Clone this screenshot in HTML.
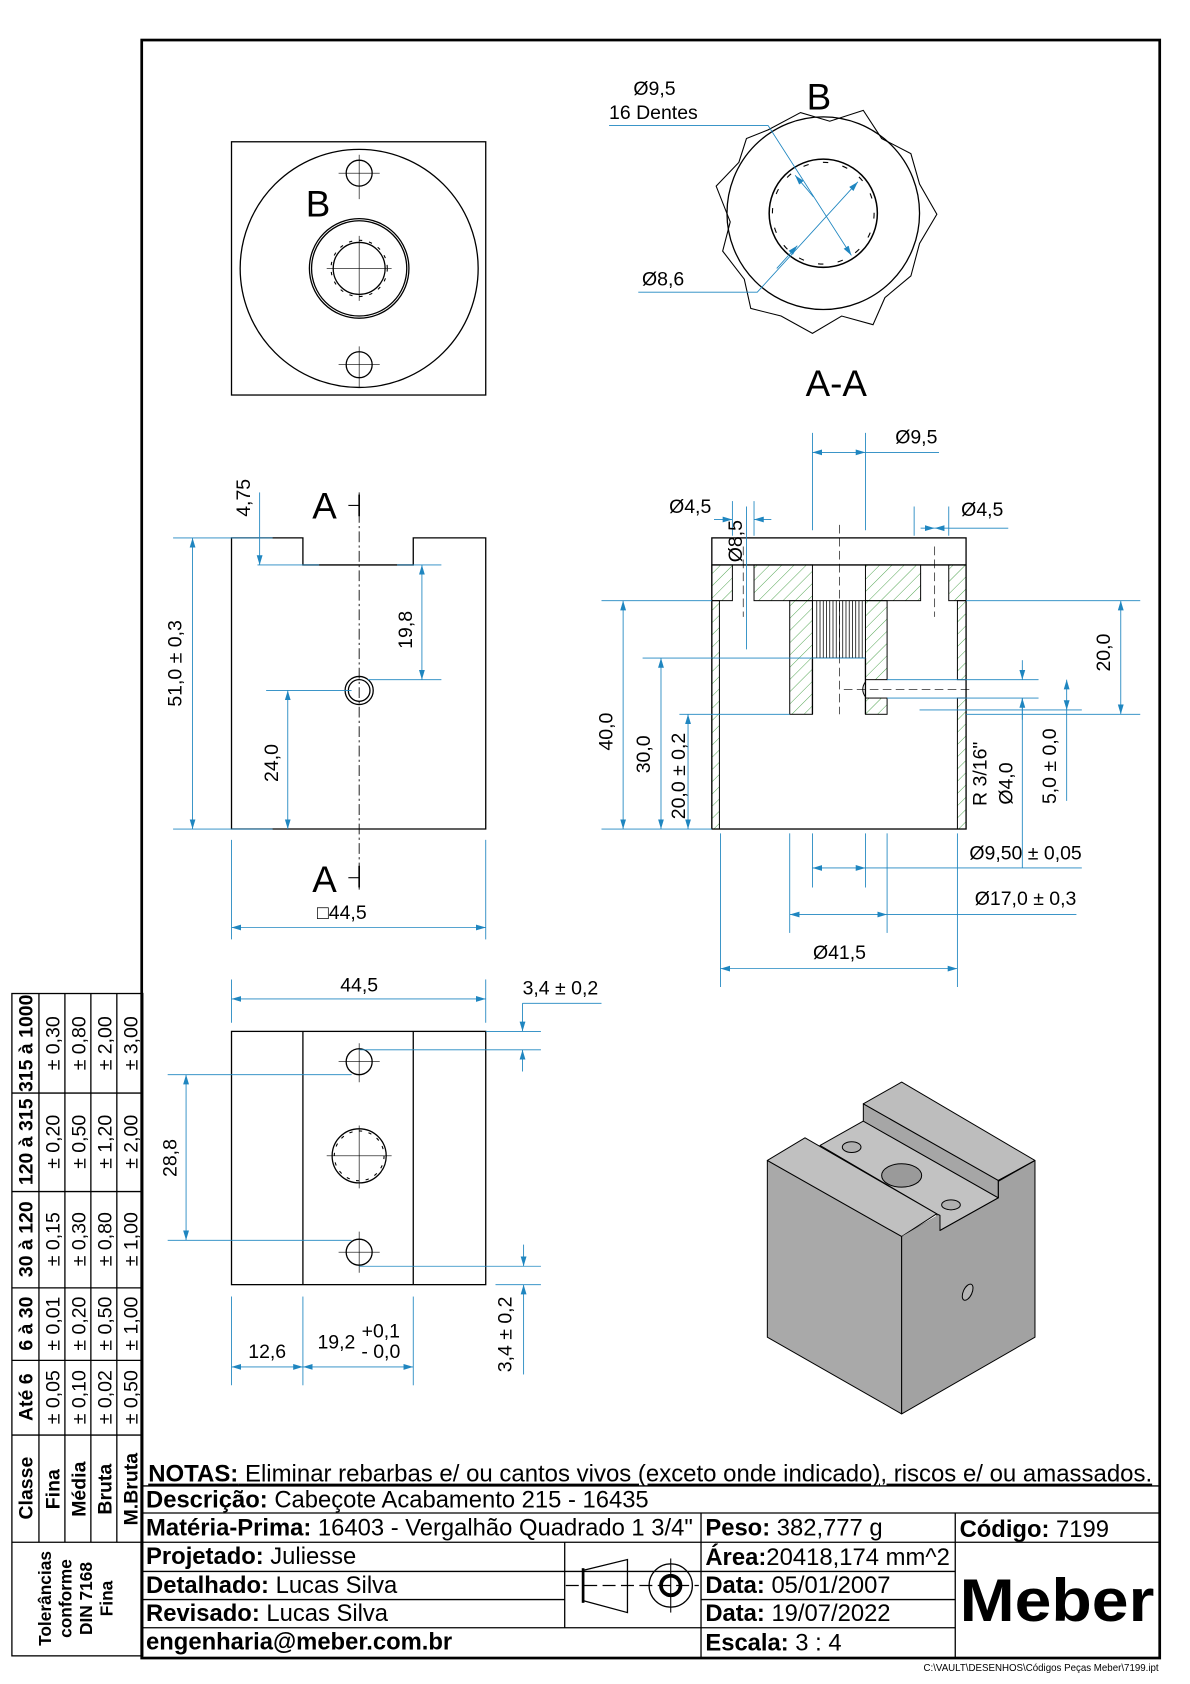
<!DOCTYPE html>
<html><head><meta charset="utf-8"><style>
html,body{margin:0;padding:0;background:#fff;}
svg{display:block;font-family:"Liberation Sans",sans-serif;}
</style></head><body>
<svg width="1190" height="1684" viewBox="0 0 1100 1556" preserveAspectRatio="none" xmlns="http://www.w3.org/2000/svg">
<defs>
<marker id="ar" viewBox="0 0 10 10" refX="10" refY="5" markerWidth="9" markerHeight="9" orient="auto-start-reverse" markerUnits="userSpaceOnUse"><path d="M0,2 L10,5 L0,8 z" fill="#1f86c0"/></marker>
<pattern id="hat" patternUnits="userSpaceOnUse" width="8" height="8" patternTransform="rotate(45)"><line x1="0" y1="0" x2="0" y2="8" stroke="#3c9a3c" stroke-width="0.8"/></pattern>
</defs>
<rect width="1100" height="1556" fill="#fff"/>
<rect x="131" y="37" width="941" height="1495" fill="none" stroke="#000" stroke-width="2.5"/>

<g stroke="#000" fill="none" stroke-width="1.2">
<rect x="214" y="131" width="235" height="234"/>
<circle cx="332" cy="248" r="110"/>
<circle cx="332" cy="248" r="46"/>
<circle cx="332" cy="248" r="44"/>
<circle cx="332" cy="248" r="24"/>
<circle cx="332" cy="248" r="26" stroke-dasharray="3,6.4" stroke-width="1"/>
<circle cx="332" cy="160" r="12"/>
<circle cx="332" cy="337" r="12"/>
<g stroke-width="0.6">
<line x1="332" y1="143" x2="332" y2="184"/><line x1="313" y1="160" x2="351" y2="160"/>
<line x1="332" y1="320" x2="332" y2="358"/><line x1="313" y1="337" x2="351" y2="337"/>
<line x1="332" y1="218" x2="332" y2="278"/><line x1="302" y1="248" x2="362" y2="248"/>
</g>

<circle cx="761" cy="197" r="89"/>
<path d="M710,120 L740,104 L767,112 L798,102 L815,128 L842,142 L850,170 L866,198 L850,225 L842,255 L818,275 L807,300 L778,292 L751,308 L722,292 L694,285 L688,258 L668,232 L675,205 L662,172 L683,150 L690,128 Z" stroke-width="1"/>
<circle cx="761" cy="197" r="50" stroke-width="1.4"/>
<circle cx="761" cy="197" r="47" stroke-dasharray="5,13.4" stroke-width="1"/>

<path d="M214,497 L280,497 L280,522 L382,522 L382,497 L449,497 L449,766 L214,766 Z"/>
<circle cx="332" cy="638" r="13"/><circle cx="332" cy="638" r="10"/>
<line x1="332" y1="455" x2="332" y2="822" stroke-width="0.8" stroke-dasharray="10,3,2,3"/>
<line x1="322" y1="467" x2="332" y2="467" stroke-width="1"/>
<line x1="322" y1="811" x2="332" y2="811" stroke-width="1"/>
<line x1="332" y1="457" x2="332" y2="477" stroke-width="1.5"/>
<line x1="332" y1="800" x2="332" y2="820" stroke-width="1.5"/>

<rect x="214" y="953" width="235" height="234"/>
<line x1="280" y1="953" x2="280" y2="1187"/><line x1="382" y1="953" x2="382" y2="1187"/>
<circle cx="332" cy="981" r="12"/><circle cx="332" cy="1157" r="12"/>
<circle cx="332" cy="1068" r="25"/>
<circle cx="332" cy="1068" r="23" stroke-dasharray="3,6" stroke-width="1"/>
<g stroke-width="0.6">
<line x1="332" y1="964" x2="332" y2="1000"/><line x1="313" y1="981" x2="351" y2="981"/>
<line x1="332" y1="1138" x2="332" y2="1176"/><line x1="313" y1="1157" x2="351" y2="1157"/>
<line x1="332" y1="1040" x2="332" y2="1098"/><line x1="302" y1="1068" x2="362" y2="1068"/>
</g>

<g stroke-width="0.9" fill="url(#hat)">
<rect x="658" y="522" width="19" height="33"/>
<rect x="658" y="555" width="7" height="211"/>
<rect x="697" y="522" width="54" height="33"/>
<rect x="800" y="522" width="51" height="33"/>
<rect x="877" y="522" width="16" height="33"/>
<rect x="885" y="555" width="8" height="73"/>
<rect x="885" y="645" width="8" height="121"/>
<rect x="730" y="555" width="21" height="105"/>
<rect x="800" y="555" width="20" height="73"/>
<rect x="800" y="645" width="20" height="15"/>
</g>
<rect x="658" y="497" width="235" height="269"/>
<line x1="658" y1="522" x2="893" y2="522"/>
<rect x="751" y="555" width="49" height="53" stroke-width="0.9"/>
<g stroke-width="0.7">
<line x1="755" y1="555" x2="755" y2="608"/><line x1="758" y1="555" x2="758" y2="608"/><line x1="761" y1="555" x2="761" y2="608"/><line x1="764" y1="555" x2="764" y2="608"/><line x1="767" y1="555" x2="767" y2="608"/><line x1="770" y1="555" x2="770" y2="608"/><line x1="773" y1="555" x2="773" y2="608"/><line x1="776" y1="555" x2="776" y2="608"/><line x1="779" y1="555" x2="779" y2="608"/><line x1="782" y1="555" x2="782" y2="608"/><line x1="785" y1="555" x2="785" y2="608"/><line x1="788" y1="555" x2="788" y2="608"/><line x1="791" y1="555" x2="791" y2="608"/><line x1="794" y1="555" x2="794" y2="608"/><line x1="797" y1="555" x2="797" y2="608"/>
</g>
<line x1="751" y1="608" x2="751" y2="660"/><line x1="800" y1="608" x2="800" y2="660"/>
<path d="M800,630 Q795,637 800,644" stroke-width="0.9"/>
<line x1="776" y1="485" x2="776" y2="660" stroke-width="0.6" stroke-dasharray="8,4"/>
<line x1="687" y1="505" x2="687" y2="570" stroke-width="0.6" stroke-dasharray="8,4"/>
<line x1="864" y1="505" x2="864" y2="570" stroke-width="0.6" stroke-dasharray="8,4"/>
<line x1="780" y1="637" x2="900" y2="637" stroke-width="0.6" stroke-dasharray="8,4"/>
</g>

<g transform="scale(0.92437) translate(760,1080) scale(0.3333)" stroke="#000" stroke-width="3" stroke-linejoin="round">
<polygon points="22,240 425,468 425,1000 22,770" fill="#a9a9a9"/>
<polygon points="425,468 825,240 825,770 425,1000" fill="#a2a2a2"/>
<polygon points="180,195 310,122 715,352 540,450 530,400" fill="#c2c2c2"/>
<polygon points="310,70 310,122 715,352 715,300" fill="#a6a6a6"/>
<polygon points="310,70 425,5 825,240 715,300" fill="#bdbdbd"/>
<polygon points="22,240 135,172 530,400 425,468" fill="#c0c0c0"/>
<polygon points="425,468 540,400 540,450" fill="#a2a2a2" stroke="none"/>
<polyline points="530,400 540,405 540,450 715,352 715,300 825,240" fill="none"/>
<ellipse cx="275" cy="200" rx="28" ry="16" fill="#b0b0b0"/>
<ellipse cx="425" cy="285" rx="60" ry="35" fill="#9a9a9a"/>
<ellipse cx="573" cy="373" rx="28" ry="15" fill="#b0b0b0"/>
<ellipse cx="623" cy="635" rx="13" ry="26" transform="rotate(25 623 635)" fill="#b5b5b5"/>
</g>

<g stroke="#1f86c0" stroke-width="0.8" fill="none">
<line x1="160" y1="497" x2="252" y2="497"/><line x1="160" y1="766" x2="252" y2="766"/>
<line x1="178" y1="497" x2="178" y2="766" marker-start="url(#ar)" marker-end="url(#ar)"/>
<line x1="240" y1="455" x2="240" y2="522" marker-end="url(#ar)"/>
<line x1="238" y1="522" x2="295" y2="522"/>
<line x1="367" y1="522" x2="408" y2="522"/><line x1="340" y1="628" x2="408" y2="628"/>
<line x1="390" y1="522" x2="390" y2="628" marker-start="url(#ar)" marker-end="url(#ar)"/>
<line x1="246" y1="638" x2="325" y2="638"/>
<line x1="266" y1="638" x2="266" y2="766" marker-start="url(#ar)" marker-end="url(#ar)"/>
<line x1="214" y1="776" x2="214" y2="868"/><line x1="449" y1="776" x2="449" y2="868"/>
<line x1="214" y1="857" x2="449" y2="857" marker-start="url(#ar)" marker-end="url(#ar)"/>
<line x1="214" y1="905" x2="214" y2="945"/><line x1="449" y1="905" x2="449" y2="945"/>
<line x1="214" y1="923" x2="449" y2="923" marker-start="url(#ar)" marker-end="url(#ar)"/>
<line x1="449" y1="953" x2="500" y2="953"/><line x1="332" y1="970" x2="500" y2="970"/>
<line x1="483" y1="927" x2="556" y2="927"/>
<line x1="483" y1="927" x2="483" y2="953" marker-end="url(#ar)"/>
<line x1="483" y1="990" x2="483" y2="970" marker-end="url(#ar)"/>
<line x1="155" y1="993" x2="325" y2="993"/><line x1="155" y1="1146" x2="325" y2="1146"/>
<line x1="172" y1="993" x2="172" y2="1146" marker-start="url(#ar)" marker-end="url(#ar)"/>
<line x1="332" y1="1170" x2="500" y2="1170"/><line x1="458" y1="1187" x2="500" y2="1187"/>
<line x1="484" y1="1150" x2="484" y2="1170" marker-end="url(#ar)"/>
<line x1="484" y1="1270" x2="484" y2="1187" marker-end="url(#ar)"/>
<line x1="214" y1="1198" x2="214" y2="1280"/><line x1="280" y1="1198" x2="280" y2="1280"/><line x1="382" y1="1198" x2="382" y2="1280"/>
<line x1="214" y1="1263" x2="280" y2="1263" marker-start="url(#ar)" marker-end="url(#ar)"/>
<line x1="280" y1="1263" x2="382" y2="1263" marker-start="url(#ar)" marker-end="url(#ar)"/>
<polyline points="563,116 710,116 787,236" marker-end="url(#ar)"/>
<line x1="752" y1="182" x2="735" y2="162" marker-end="url(#ar)"/>
<polyline points="590,270 700,270 793,168" marker-end="url(#ar)"/>
<line x1="718" y1="248" x2="737" y2="227" marker-end="url(#ar)"/>
<line x1="751" y1="400" x2="751" y2="490"/><line x1="800" y1="400" x2="800" y2="490"/>
<line x1="751" y1="418" x2="800" y2="418" marker-start="url(#ar)" marker-end="url(#ar)"/>
<line x1="800" y1="418" x2="868" y2="418"/>
<line x1="677" y1="463" x2="677" y2="495"/><line x1="697" y1="463" x2="697" y2="495"/>
<line x1="660" y1="480" x2="677" y2="480" marker-end="url(#ar)"/>
<line x1="713" y1="480" x2="697" y2="480" marker-end="url(#ar)"/>
<line x1="690" y1="468" x2="690" y2="600"/>
<line x1="845" y1="468" x2="845" y2="495"/><line x1="877" y1="468" x2="877" y2="495"/>
<line x1="851" y1="488" x2="864" y2="488" marker-end="url(#ar)"/>
<line x1="877" y1="488" x2="864" y2="488" marker-end="url(#ar)"/>
<line x1="877" y1="488" x2="932" y2="488"/>
<line x1="556" y1="555" x2="658" y2="555"/><line x1="556" y1="766" x2="658" y2="766"/>
<line x1="576" y1="555" x2="576" y2="766" marker-start="url(#ar)" marker-end="url(#ar)"/>
<line x1="594" y1="608" x2="800" y2="608"/>
<line x1="611" y1="608" x2="611" y2="766" marker-start="url(#ar)" marker-end="url(#ar)"/>
<line x1="628" y1="660" x2="730" y2="660"/>
<line x1="636" y1="660" x2="636" y2="766" marker-start="url(#ar)" marker-end="url(#ar)"/>
<line x1="893" y1="555" x2="1054" y2="555"/><line x1="893" y1="660" x2="1054" y2="660"/>
<line x1="1036" y1="555" x2="1036" y2="660" marker-start="url(#ar)" marker-end="url(#ar)"/>
<line x1="820" y1="628" x2="960" y2="628"/><line x1="820" y1="645" x2="960" y2="645"/>
<line x1="945" y1="610" x2="945" y2="628" marker-end="url(#ar)"/>
<line x1="945" y1="665" x2="945" y2="645" marker-end="url(#ar)"/>
<line x1="945" y1="645" x2="945" y2="802"/>
<line x1="850" y1="656" x2="1000" y2="656"/>
<line x1="986" y1="628" x2="986" y2="656" marker-start="url(#ar)" marker-end="url(#ar)"/>
<line x1="986" y1="656" x2="986" y2="740"/>
<line x1="751" y1="770" x2="751" y2="820"/><line x1="800" y1="770" x2="800" y2="820"/>
<line x1="751" y1="802" x2="800" y2="802" marker-start="url(#ar)" marker-end="url(#ar)"/>
<line x1="800" y1="802" x2="1000" y2="802"/>
<line x1="730" y1="770" x2="730" y2="862"/><line x1="820" y1="770" x2="820" y2="862"/>
<line x1="730" y1="845" x2="820" y2="845" marker-start="url(#ar)" marker-end="url(#ar)"/>
<line x1="820" y1="845" x2="995" y2="845"/>
<line x1="666" y1="770" x2="666" y2="912"/><line x1="885" y1="770" x2="885" y2="912"/>
<line x1="666" y1="895" x2="885" y2="895" marker-start="url(#ar)" marker-end="url(#ar)"/>
</g>

<g fill="#000" font-size="18">
<text x="294" y="200" font-size="34" text-anchor="middle">B</text>
<text x="757" y="101" font-size="34" text-anchor="middle">B</text>
<text x="773" y="366" font-size="34" text-anchor="middle">A-A</text>
<text x="300" y="479" font-size="34" text-anchor="middle">A</text>
<text x="300" y="824" font-size="34" text-anchor="middle">A</text>
<text x="605" y="88" text-anchor="middle">Ø9,5</text>
<text x="604" y="110" text-anchor="middle">16 Dentes</text>
<text x="613" y="264" text-anchor="middle">Ø8,6</text>
<text transform="translate(168,613) rotate(-90)" text-anchor="middle">51,0 ± 0,3</text>
<text transform="translate(231,460) rotate(-90)" text-anchor="middle">4,75</text>
<text transform="translate(381,582) rotate(-90)" text-anchor="middle">19,8</text>
<text transform="translate(257,705) rotate(-90)" text-anchor="middle">24,0</text>
<text x="316" y="849" text-anchor="middle">□44,5</text>
<text x="332" y="916" text-anchor="middle">44,5</text>
<text x="518" y="919" text-anchor="middle">3,4 ± 0,2</text>
<text transform="translate(163,1070) rotate(-90)" text-anchor="middle">28,8</text>
<text transform="translate(473,1233) rotate(-90)" text-anchor="middle">3,4 ± 0,2</text>
<text x="247" y="1255" text-anchor="middle">12,6</text>
<text x="311" y="1246" text-anchor="middle">19,2</text>
<text x="352" y="1236" text-anchor="middle">+0,1</text>
<text x="352" y="1255" text-anchor="middle">- 0,0</text>
<text x="847" y="410" text-anchor="middle">Ø9,5</text>
<text x="638" y="474" text-anchor="middle">Ø4,5</text>
<text x="908" y="477" text-anchor="middle">Ø4,5</text>
<text transform="translate(686,500) rotate(-90)" text-anchor="middle">Ø8,5</text>
<text transform="translate(566,676) rotate(-90)" text-anchor="middle">40,0</text>
<text transform="translate(601,697) rotate(-90)" text-anchor="middle">30,0</text>
<text transform="translate(633,717) rotate(-90)" text-anchor="middle">20,0 ± 0,2</text>
<text transform="translate(1026,603) rotate(-90)" text-anchor="middle">20,0</text>
<text transform="translate(912,715) rotate(-90)" text-anchor="middle">R 3/16"</text>
<text transform="translate(936,724) rotate(-90)" text-anchor="middle">Ø4,0</text>
<text transform="translate(976,708) rotate(-90)" text-anchor="middle">5,0 ± 0,0</text>
<text x="948" y="794" text-anchor="middle">Ø9,50 ± 0,05</text>
<text x="948" y="836" text-anchor="middle">Ø17,0 ± 0,3</text>
<text x="776" y="886" text-anchor="middle">Ø41,5</text>
</g>

<g stroke="#000" stroke-width="1.2" fill="none">
<rect x="11" y="918" width="121" height="612"/>
<line x1="36" y1="918" x2="36" y2="1425"/><line x1="60" y1="918" x2="60" y2="1425"/><line x1="84" y1="918" x2="84" y2="1425"/><line x1="108" y1="918" x2="108" y2="1425"/>
<line x1="11" y1="1010" x2="132" y2="1010"/><line x1="11" y1="1101" x2="132" y2="1101"/><line x1="11" y1="1190" x2="132" y2="1190"/><line x1="11" y1="1257" x2="132" y2="1257"/><line x1="11" y1="1326" x2="132" y2="1326"/><line x1="11" y1="1425" x2="132" y2="1425"/>
</g>
<g font-size="18" fill="#000">
<g font-weight="bold">
<text transform="translate(30,964) rotate(-90)" text-anchor="middle">315 à 1000</text>
<text transform="translate(30,1055) rotate(-90)" text-anchor="middle">120 à 315</text>
<text transform="translate(30,1145) rotate(-90)" text-anchor="middle">30 à 120</text>
<text transform="translate(30,1223) rotate(-90)" text-anchor="middle">6 à 30</text>
<text transform="translate(30,1291) rotate(-90)" text-anchor="middle">Até 6</text>
<text transform="translate(30,1375) rotate(-90)" text-anchor="middle">Classe</text>
<text transform="translate(55,1376) rotate(-90)" text-anchor="middle">Fina</text>
<text transform="translate(79,1376) rotate(-90)" text-anchor="middle">Média</text>
<text transform="translate(103,1376) rotate(-90)" text-anchor="middle">Bruta</text>
<text transform="translate(127,1376) rotate(-90)" text-anchor="middle">M.Bruta</text>
</g>
<text transform="translate(55,964) rotate(-90)" text-anchor="middle">± 0,30</text>
<text transform="translate(79,964) rotate(-90)" text-anchor="middle">± 0,80</text>
<text transform="translate(103,964) rotate(-90)" text-anchor="middle">± 2,00</text>
<text transform="translate(127,964) rotate(-90)" text-anchor="middle">± 3,00</text>
<text transform="translate(55,1055) rotate(-90)" text-anchor="middle">± 0,20</text>
<text transform="translate(79,1055) rotate(-90)" text-anchor="middle">± 0,50</text>
<text transform="translate(103,1055) rotate(-90)" text-anchor="middle">± 1,20</text>
<text transform="translate(127,1055) rotate(-90)" text-anchor="middle">± 2,00</text>
<text transform="translate(55,1145) rotate(-90)" text-anchor="middle">± 0,15</text>
<text transform="translate(79,1145) rotate(-90)" text-anchor="middle">± 0,30</text>
<text transform="translate(103,1145) rotate(-90)" text-anchor="middle">± 0,80</text>
<text transform="translate(127,1145) rotate(-90)" text-anchor="middle">± 1,00</text>
<text transform="translate(55,1223) rotate(-90)" text-anchor="middle">± 0,01</text>
<text transform="translate(79,1223) rotate(-90)" text-anchor="middle">± 0,20</text>
<text transform="translate(103,1223) rotate(-90)" text-anchor="middle">± 0,50</text>
<text transform="translate(127,1223) rotate(-90)" text-anchor="middle">± 1,00</text>
<text transform="translate(55,1291) rotate(-90)" text-anchor="middle">± 0,05</text>
<text transform="translate(79,1291) rotate(-90)" text-anchor="middle">± 0,10</text>
<text transform="translate(103,1291) rotate(-90)" text-anchor="middle">± 0,02</text>
<text transform="translate(127,1291) rotate(-90)" text-anchor="middle">± 0,50</text>
<g font-weight="bold" font-size="16">
<text transform="translate(47,1477) rotate(-90)" text-anchor="middle">Tolerâncias</text>
<text transform="translate(66,1477) rotate(-90)" text-anchor="middle">conforme</text>
<text transform="translate(85,1477) rotate(-90)" text-anchor="middle">DIN 7168</text>
<text transform="translate(104,1477) rotate(-90)" text-anchor="middle">Fina</text>
</g>
</g>

<g stroke="#000" stroke-width="1.2" fill="none">
<line x1="131" y1="1373" x2="1072" y2="1373"/>
<line x1="131" y1="1398" x2="1072" y2="1398"/>
<line x1="131" y1="1425" x2="1072" y2="1425"/>
<line x1="131" y1="1452" x2="648" y2="1452"/><line x1="131" y1="1478" x2="522" y2="1478"/><line x1="131" y1="1504" x2="883" y2="1504"/>
<line x1="648" y1="1452" x2="883" y2="1452"/><line x1="648" y1="1478" x2="883" y2="1478"/>
<line x1="648" y1="1398" x2="648" y2="1532"/><line x1="883" y1="1398" x2="883" y2="1532"/>
<line x1="522" y1="1425" x2="522" y2="1504"/>
<polygon points="539,1451 580,1441 580,1490 539,1479"/>
<line x1="539" y1="1449" x2="539" y2="1481" stroke-width="2.5"/>
<line x1="523" y1="1465" x2="646" y2="1465" stroke-dasharray="12,5"/>
<circle cx="620" cy="1465" r="20"/>
<circle cx="620" cy="1465" r="9" stroke-width="3.5"/>
<line x1="620" y1="1440" x2="620" y2="1490" stroke-width="1"/>
</g>
<g font-size="22" fill="#000">
<text x="137" y="1369" textLength="928" lengthAdjust="spacingAndGlyphs" text-decoration="underline"><tspan font-weight="bold">NOTAS:</tspan> Eliminar rebarbas e/ ou cantos vivos (exceto onde indicado), riscos e/ ou amassados.</text>
<text x="135" y="1393"><tspan font-weight="bold">Descrição:</tspan> Cabeçote Acabamento 215 - 16435</text>
<text x="135" y="1419"><tspan font-weight="bold">Matéria-Prima:</tspan> 16403 - Vergalhão Quadrado 1 3/4"</text>
<text x="652" y="1419"><tspan font-weight="bold">Peso:</tspan> 382,777 g</text>
<text x="887" y="1420"><tspan font-weight="bold">Código:</tspan> 7199</text>
<text x="135" y="1445"><tspan font-weight="bold">Projetado:</tspan> Juliesse</text>
<text x="135" y="1472"><tspan font-weight="bold">Detalhado:</tspan> Lucas Silva</text>
<text x="135" y="1498"><tspan font-weight="bold">Revisado:</tspan> Lucas Silva</text>
<text x="135" y="1524" font-weight="bold">engenharia@meber.com.br</text>
<text x="652" y="1446" textLength="226" lengthAdjust="spacingAndGlyphs"><tspan font-weight="bold">Área:</tspan>20418,174 mm^2</text>
<text x="652" y="1472"><tspan font-weight="bold">Data:</tspan> 05/01/2007</text>
<text x="652" y="1498"><tspan font-weight="bold">Data:</tspan> 19/07/2022</text>
<text x="652" y="1525"><tspan font-weight="bold">Escala:</tspan> 3 : 4</text>
<text x="977" y="1498" font-size="56" font-weight="bold" text-anchor="middle" textLength="180" lengthAdjust="spacingAndGlyphs">Meber</text>
<text x="1071" y="1544" font-size="9" text-anchor="end">C:\VAULT\DESENHOS\Códigos Peças Meber\7199.ipt</text>
</g>
</svg>
</body></html>
